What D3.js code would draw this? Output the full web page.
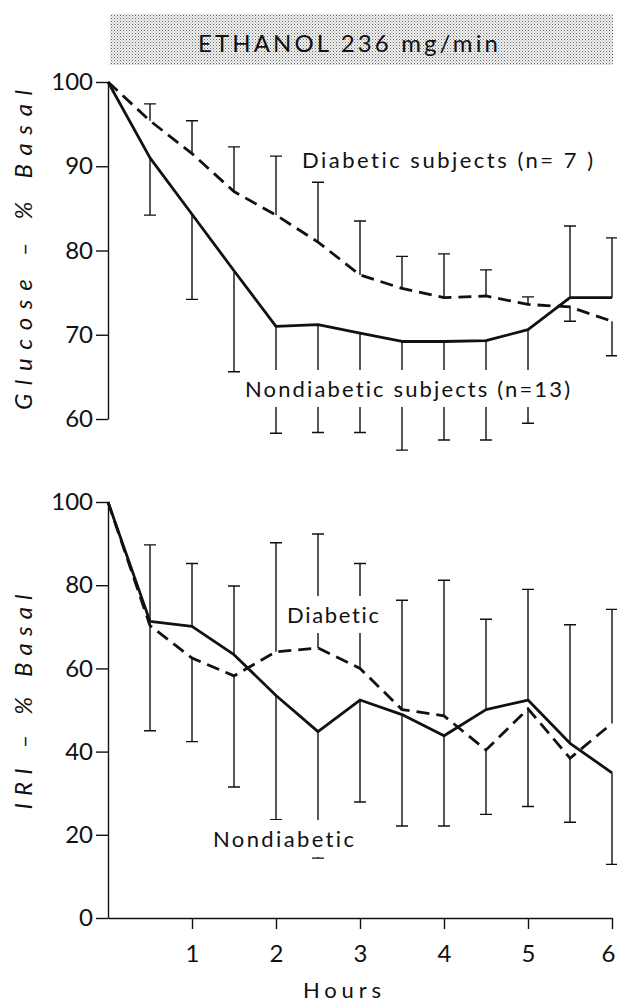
<!DOCTYPE html>
<head>
	<meta charset="utf-8">
	<style>
		body { margin: 0; background: white; }
		svg { font-family: Lato, "DejaVu Sans", sans-serif; font-variant-ligatures: none; }
		svg .tick text { font-family: Lato, sans-serif; font-size: 24px; fill: #111; }
		svg .tick line, svg .domain { stroke: #111; stroke-width: 1.4; }
		svg .note { font-size: 22px; fill: #111; }
		svg .ytitle { font-size: 24px; font-style: italic; fill: #111; }
	</style>
</head>
<body>
<svg width="617" height="1003"></svg>
<script src="https://d3js.org/d3.v7.min.js"></script>
<script>

// hours
var times = [0, 0.5, 1, 1.5, 2, 2.5, 3, 3.5, 4, 4.5, 5, 5.5, 6];
var hourTicks = [1, 2, 3, 4, 5, 6];

// glucose, % of basal
var glucoseTicks = [60, 70, 80, 90, 100];
var glucoseNondiabetic = [100, 91, 84.3, 77.6, 71, 71.2, 70.2, 69.2, 69.2, 69.3, 70.6, 74.4, 74.4];
var glucoseNondiabeticErr = [0, 6.8, 10.1, 12.0, 12.7, 12.8, 11.8, 12.9, 11.7, 11.8, 11.1, 8.5, 7.1];
var glucoseDiabetic = [100, 95.4, 91.5, 87, 84.2, 81, 77.1, 75.5, 74.4, 74.6, 73.6, 73.3, 71.6];
var glucoseDiabeticErr = [0, 2.0, 3.9, 5.3, 7.0, 7.1, 6.4, 3.8, 5.2, 3.1, 0.9, 1.7, 4.1];

// IRI, % of basal
var iriTicks = [0, 20, 40, 60, 80, 100];
var iriNondiabetic = [100, 71.3, 70.1, 63.3, 53.5, 44.8, 52.4, 48.9, 43.8, 50.1, 52.4, 42, 34.9];
var iriNondiabeticErr = [0, 18.4, 15.1, 16.5, 29.9, 30.4, 24.5, 26.8, 21.7, 21.7, 26.6, 28.5, 22.0];
var iriDiabetic = [100, 70.3, 62.5, 58.2, 64, 64.9, 60, 50.1, 48.6, 40.4, 50.3, 38.4, 46.8];
var iriDiabeticErr = [0, 25.3, 20.1, 26.7, 26.2, 27.4, 25.2, 26.3, 32.6, 15.5, 23.5, 15.4, 27.4];

var svg = d3.select("svg");

var x = d3.scaleLinear().domain([0, 6]).range([108, 612]);
var yTop = d3.scaleLinear().domain([60, 100]).range([419, 82]);
var yBot = d3.scaleLinear().domain([0, 100]).range([918, 502]);

// stippled banner
var defs = svg.append("defs");
var pat = defs.append("pattern").attr("id", "dots")
	.attr("width", 3).attr("height", 3).attr("patternUnits", "userSpaceOnUse");
pat.append("rect").attr("width", 3).attr("height", 3).attr("fill", "#f0f0f0");
pat.append("rect").attr("width", 1).attr("height", 1).attr("fill", "#666");
pat.append("rect").attr("x", 1.5).attr("y", 1.5).attr("width", 1).attr("height", 1).attr("fill", "#999");

svg.append("rect").attr("x", 110).attr("y", 14).attr("width", 503).attr("height", 51).attr("fill", "url(#dots)");
svg.append("text").attr("x", 348).attr("y", 52).attr("text-anchor", "middle")
	.attr("textLength", 300).attr("lengthAdjust", "spacing")
	.style("font-size", "24px").attr("fill", "#111")
	.text("ETHANOL  236 mg/min");

function panel(y, ticks, nd, ndErr, di, diErr) {
	var g = svg.append("g");

	g.append("g").attr("transform", "translate(" + x(0) + ",0)")
		.call(d3.axisLeft(y).tickValues(ticks).tickFormat(d3.format("d"))
			.tickSize(12).tickSizeOuter(0).tickPadding(3));

	var line = d3.line().x(function (d, i) { return x(times[i]); }).y(function (d) { return y(d); });

	// error bars point away from the other group
	function drawBars(vals, err, other) {
		var idx = d3.range(vals.length).filter(function (i) { return err[i] > 0; });
		g.selectAll(null).data(idx).enter().append("path")
			.attr("fill", "none").attr("stroke", "#111").attr("stroke-width", 1.4)
			.attr("d", function (i) {
				var end = vals[i] >= other[i] ? vals[i] + err[i] : vals[i] - err[i];
				var xi = x(times[i]), y0 = y(vals[i]), y1 = y(end);
				return "M" + xi + "," + y0 + "V" + y1 + "M" + (xi - 6) + "," + y1 + "H" + (xi + 6);
			});
	}
	drawBars(nd, ndErr, di);
	drawBars(di, diErr, nd);

	g.append("path").datum(nd).attr("d", line)
		.attr("fill", "none").attr("stroke", "#111").attr("stroke-width", 2.8).attr("stroke-linejoin", "round");
	g.append("path").datum(di).attr("d", line)
		.attr("fill", "none").attr("stroke", "#111").attr("stroke-width", 2.8)
		.attr("stroke-dasharray", "13,7");
	return g;
}

var topPanel = panel(yTop, glucoseTicks, glucoseNondiabetic, glucoseNondiabeticErr, glucoseDiabetic, glucoseDiabeticErr);
var botPanel = panel(yBot, iriTicks, iriNondiabetic, iriNondiabeticErr, iriDiabetic, iriDiabeticErr);

var xAxis = botPanel.append("g").attr("transform", "translate(0," + yBot(0) + ")")
	.call(d3.axisBottom(x).tickValues(hourTicks).tickFormat(d3.format("d"))
		.tickSize(11).tickSizeOuter(0).tickPadding(16));
xAxis.selectAll(".tick text").filter(function (d) { return d === 6; }).attr("dx", -4);

// annotations, knocking out the error bars behind them
function note(g, tx, ty, len, str) {
	var bg = g.append("rect").attr("fill", "white");
	var t = g.append("text").attr("class", "note").attr("x", tx).attr("y", ty)
		.attr("textLength", len).attr("lengthAdjust", "spacing").text(str);
	var b = t.node().getBBox();
	bg.attr("x", b.x - 3).attr("y", b.y - 5).attr("width", b.width + 6).attr("height", b.height + 10);
}
note(topPanel, 302, 168, 291, "Diabetic   subjects (n= 7 )");
note(topPanel, 245, 397, 325, "Nondiabetic subjects (n=13)");
note(botPanel, 287, 623, 92, "Diabetic");
note(botPanel, 213, 847, 141, "Nondiabetic");

svg.append("text").attr("class", "ytitle").attr("transform", "translate(32,250) rotate(-90)")
	.attr("text-anchor", "middle").attr("textLength", 320).attr("lengthAdjust", "spacing")
	.text("Glucose  –  % Basal");
svg.append("text").attr("class", "ytitle").attr("transform", "translate(32,702) rotate(-90)")
	.attr("text-anchor", "middle").attr("textLength", 215).attr("lengthAdjust", "spacing")
	.text("IRI  –   % Basal");
svg.append("text").attr("x", 342).attr("y", 998).attr("text-anchor", "middle")
	.attr("textLength", 78).attr("lengthAdjust", "spacing")
	.style("font-size", "22px").attr("fill", "#111").text("Hours");

</script>
</body>
